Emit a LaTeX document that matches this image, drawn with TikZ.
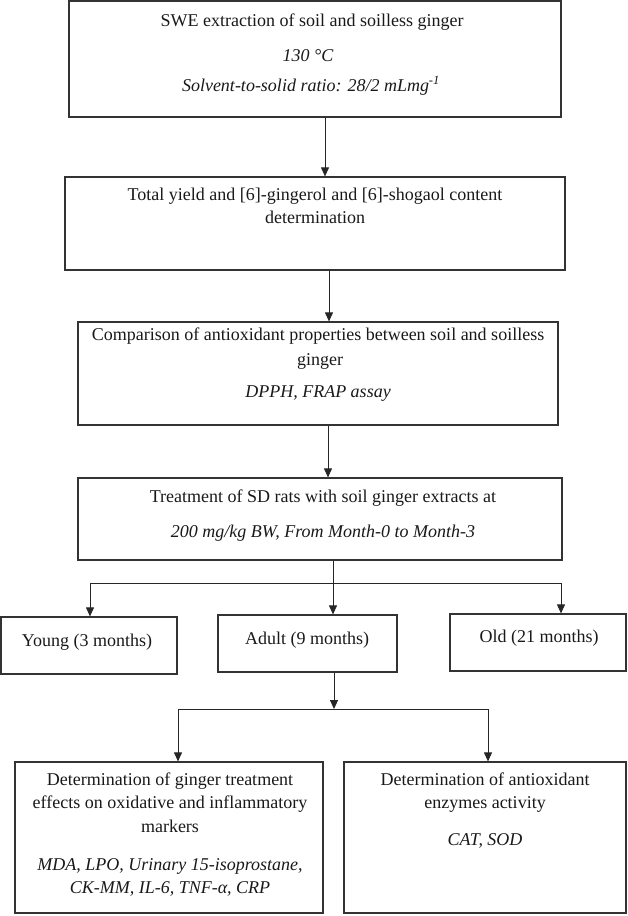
\documentclass[tikz,border=0pt]{standalone}
\usepackage{fontspec}
\setmainfont{Liberation Serif}
\usetikzlibrary{arrows.meta}
\begin{document}
\begin{tikzpicture}[x=1pt,y=-1pt,
  font=\fontsize{18}{23.5}\selectfont,
  box/.style={draw=black!80, line width=1.2pt, rectangle, inner sep=0pt},
  txt/.style={anchor=base, inner sep=0pt, text=black!90},
  conn/.style={draw=black!85, line width=0.9pt},
  arr/.style={conn, -{Triangle[length=9pt,width=8pt]}}]
\useasboundingbox (0,0) rectangle (628,916);

% boxes
\node[box, minimum width=492pt, minimum height=116pt] (b1) at (315,59) {};
\node[box, minimum width=500pt, minimum height=93pt] (b2) at (315,223.5) {};
\node[box, minimum width=480pt, minimum height=103pt] (b3) at (318,373.5) {};
\node[box, minimum width=484pt, minimum height=82pt] (b4) at (320,519) {};
\node[box, minimum width=176pt, minimum height=57pt] (y1) at (89,645.5) {};
\node[box, minimum width=179pt, minimum height=57pt] (a1) at (307.5,643.5) {};
\node[box, minimum width=176pt, minimum height=57pt] (o1) at (538,642.5) {};
\node[box, minimum width=308pt, minimum height=151pt] (l1) at (169,837.5) {};
\node[box, minimum width=282pt, minimum height=151pt] (r1) at (485,837.5) {};

% texts
\node[txt] (t1a) at (312,26) {SWE extraction of soil and soilless ginger};
\node[txt] (t1b) at (308,61) {\itshape 130 °C};
\node[txt] (t1c) at (311,91) {\itshape Solvent-to-solid ratio: 28/2 mLmg\textsuperscript{-1}};
\node[txt] (t2a) at (315,200) {Total yield and [6]-gingerol and [6]-shogaol content};
\node[txt] (t2b) at (315,223.5) {determination};
\node[txt] (t3a) at (318,340) {Comparison of antioxidant properties between soil and soilless};
\node[txt] (t3b) at (320,365) {ginger};
\node[txt] (t3c) at (318,397) {\itshape DPPH, FRAP assay};
\node[txt] (t4a) at (323,502) {Treatment of SD rats with soil ginger extracts at};
\node[txt] (t4b) at (323,537) {\itshape 200 mg/kg BW, From Month-0 to Month-3};
\node[txt] (ty) at (87,646) {Young (3 months)};
\node[txt] (ta) at (307,644) {Adult (9 months)};
\node[txt] (to) at (539,642) {Old (21 months)};
\node[txt] (tl1) at (170,785) {Determination of ginger treatment};
\node[txt] (tl2) at (170,808.5) {effects on oxidative and inflammatory};
\node[txt] (tl3) at (170,832) {markers};
\node[txt] (tl4) at (170,870) {\itshape MDA, LPO, Urinary 15-isoprostane,};
\node[txt] (tl5) at (170,893) {\itshape CK-MM, IL-6, TNF-α, CRP};
\node[txt] (tr1) at (485,785) {Determination of antioxidant};
\node[txt] (tr2) at (485,808.5) {enzymes activity};
\node[txt] (tr3) at (485,845) {\itshape CAT, SOD};

% main chain
\draw[arr] ([xshift=10pt]b1.south) -- ([xshift=10pt]b2.north);
\draw[arr] ([xshift=14pt]b2.south) -- ([xshift=11pt]b3.north);
\draw[arr] ([xshift=10pt]b3.south) -- ([xshift=8pt]b4.north);

% first branch
\coordinate (h1L) at (90,583);
\coordinate (h1R) at (561,583);
\draw[conn] (h1L) -- (h1R);
\draw[arr] ([xshift=13pt]b4.south) -- ([xshift=13pt]b4.south |- a1.north);
\draw[arr] (h1L) -- (h1L |- y1.north);
\draw[arr] (h1R) -- (h1R |- o1.north);

% second branch
\coordinate (h2L) at (178,709);
\coordinate (h2R) at (488,709);
\coordinate (h2M) at (334,709);
\draw[conn] (h2L) -- (h2R);
\draw[arr] ([xshift=26.5pt]a1.south) -- (h2M);
\draw[arr] (h2L) -- (h2L |- l1.north);
\draw[arr] (h2R) -- (h2R |- r1.north);
\end{tikzpicture}
\end{document}
